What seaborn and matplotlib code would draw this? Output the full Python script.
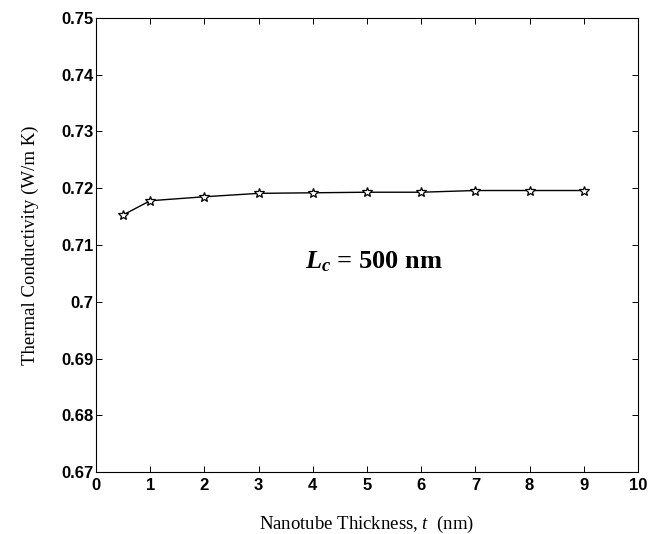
import matplotlib
matplotlib.use("Agg")
import matplotlib.pyplot as plt
import seaborn as sns
import pandas as pd
from matplotlib.ticker import FuncFormatter

# Data
thickness = [0.5, 1, 2, 3, 4, 5, 6, 7, 8, 9]
conductivity = [0.7153, 0.7178, 0.7185, 0.7191, 0.7192, 0.7193, 0.7193, 0.7196, 0.7196, 0.7196]
x_ticks = [0, 1, 2, 3, 4, 5, 6, 7, 8, 9, 10]
y_ticks = [0.67, 0.68, 0.69, 0.70, 0.71, 0.72, 0.73, 0.74, 0.75]
x_label = "Nanotube Thickness, $\\mathsf{t}$  (nm)"
y_label = "Thermal Conductivity (W/m K)"
annotation = "$L_c$ = 500 nm"

sns.set_theme(style="white")
plt.rcParams.update({
    "mathtext.fontset": "custom",
    "mathtext.it": "Liberation Serif:italic:bold",
    "mathtext.rm": "Liberation Serif:bold",
    "mathtext.bf": "Liberation Serif:bold",
    "mathtext.sf": "Liberation Serif:italic",
    "axes.edgecolor": "black",
    "axes.linewidth": 0.8,
})

df = pd.DataFrame({"t": thickness, "k": conductivity})

fig = plt.figure(figsize=(6.63, 5.34), dpi=100)
ax = fig.add_axes([0.1448, 0.1161, 0.9623 - 0.1448, 0.9663 - 0.1161])

sns.lineplot(data=df, x="t", y="k", ax=ax, color="black", linewidth=1.0,
             marker="*", markersize=7, markerfacecolor="white",
             markeredgecolor="black", markeredgewidth=0.9)

ax.set_xlim(0, 10)
ax.set_ylim(0.67, 0.75)
ax.set_xticks(x_ticks)
ax.set_yticks(y_ticks)
ax.yaxis.set_major_formatter(FuncFormatter(lambda v, p: f"{v:g}"))
ax.tick_params(direction="in", length=4, width=0.7, top=True, right=True,
               bottom=True, left=True, colors="black")
ax.tick_params(axis="y", pad=2)
ax.tick_params(axis="x", pad=4)
for lab in ax.get_xticklabels() + ax.get_yticklabels():
    lab.set_fontfamily("Liberation Sans")
    lab.set_fontweight("bold")
    lab.set_fontsize(12)
    lab.set_color("black")

for s in ax.spines.values():
    s.set_visible(True)
    s.set_color("black")

ax.set_xlabel(x_label, fontfamily="Liberation Serif",
              fontsize=13.5, color="black", labelpad=15)
ax.set_ylabel(y_label, fontfamily="Liberation Serif", fontsize=13.5, color="black", labelpad=16)

ax.text(3.86, 0.7071, annotation, fontfamily="Liberation Serif",
        fontweight="bold", fontsize=19, color="black", va="center", ha="left")

fig.savefig("out.png", dpi=100)
